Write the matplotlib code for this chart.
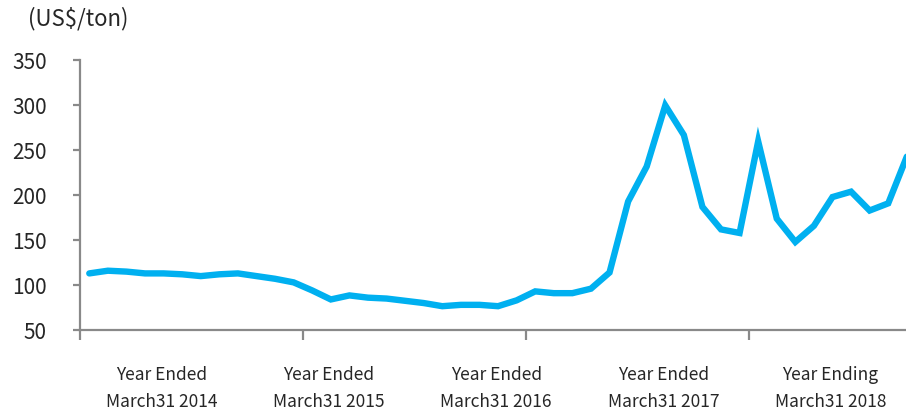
import matplotlib.pyplot as plt
import numpy as np

plt.rcParams['font.family'] = ['Noto Sans CJK JP', 'DejaVu Sans']

# monthly price, April 2013 onward (US$/ton)
prices = [113, 116, 115, 113, 113, 112, 110, 112, 113, 110, 107, 103,
          94, 84, 88.5, 86, 85, 82.5, 80, 76.5, 78, 78, 76.5, 83,
          93, 91, 91, 96, 114, 193, 232, 300, 267, 187, 162, 158,
          260, 174, 148, 166, 198, 204, 183, 191, 243]
year_labels = ["Year Ended\nMarch31 2014", "Year Ended\nMarch31 2015",
               "Year Ended\nMarch31 2016", "Year Ended\nMarch31 2017",
               "Year Ending\nMarch31 2018"]
yticks = [50, 100, 150, 200, 250, 300, 350]

fig = plt.figure(figsize=(9.06, 4.11), dpi=100)
ax = fig.add_axes([80 / 906, 1 - 330 / 411, 826 / 906, (330 - 60.5) / 411])

x = np.arange(len(prices)) + 0.5
ax.plot(x, prices, color="#00B0F0", linewidth=4.6, solid_joinstyle="miter",
        solid_capstyle="round", clip_on=False)

ax.set_xlim(0, 826 / 18.58)
ax.set_ylim(50, 350)
ax.set_yticks(yticks)
ax.set_xticks(np.arange(0, 48, 12))
ax.set_xticklabels([])
ax.set_xticks(4.4 + 9 * np.arange(len(year_labels)), year_labels, minor=True)

gray = "#898989"
for s in ["top", "right"]:
    ax.spines[s].set_visible(False)
for s in ["left", "bottom"]:
    ax.spines[s].set_color(gray)
    ax.spines[s].set_linewidth(1.6)

ax.tick_params(axis="y", direction="out", length=5, width=1.6, color=gray,
               labelsize=15, labelcolor="#262626", pad=19)
ax.tick_params(axis="x", which="major", direction="out", length=7, width=1.6,
               color=gray)
ax.tick_params(axis="x", which="minor", length=0, labelsize=12.5,
               labelcolor="#262626", pad=26)
for lab in ax.get_xticklabels(minor=True):
    lab.set_linespacing(1.6)

fig.text(28 / 906, 1 - 19 / 411, "(US$/ton)", fontsize=16, color="#262626",
         va="center", ha="left")

fig.savefig("out.png", dpi=100)
